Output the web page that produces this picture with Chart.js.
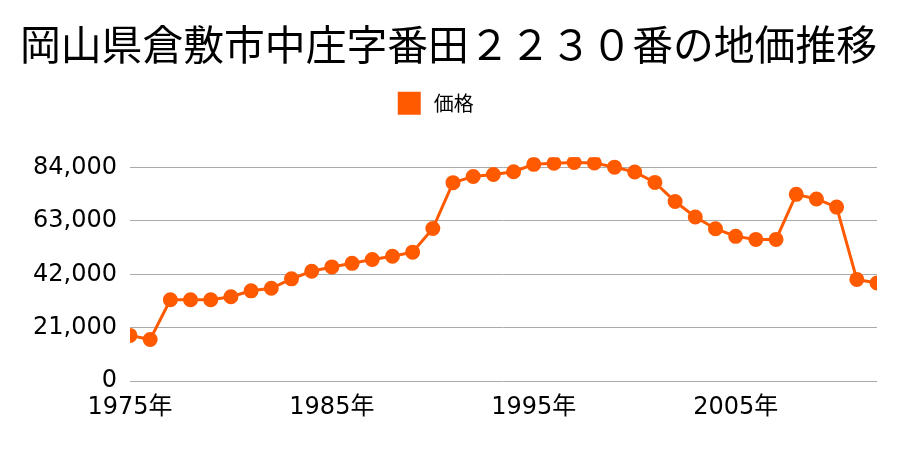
<!DOCTYPE html>
<html>
<head>
<meta charset="utf-8">
<script src="https://cdn.jsdelivr.net/npm/chart.js@4/dist/chart.umd.min.js"></script>
<style>
  body { margin: 0; background: #fff; }
  #wrap { width: 900px; height: 450px; }
</style>
</head>
<body>
<div id="wrap"><canvas id="landPrice"></canvas></div>
<script>
const years = [1975,1976,1977,1978,1979,1980,1981,1982,1983,1984,1985,1986,1987,1988,1989,1990,1991,1992,1993,1994,1995,1996,1997,1998,1999,2000,2001,2002,2003,2004,2005,2006,2007,2008,2009,2010,2011,2012];
const prices = [18000,16400,32000,32000,32000,33200,35500,36500,40200,43200,44900,46300,47800,49100,50700,60000,78000,80400,81200,82300,85200,85600,85900,85700,84100,82200,78100,70600,64500,59900,56900,55700,55700,73400,71600,68400,40000,38600];
const yTicks = [0,21000,42000,63000,84000];
const xTicks = [1975,1985,1995,2005];

const points = years.map((y, i) => ({ x: y, y: prices[i] }));
const tickFont = "'DejaVu Sans', 'Noto Sans CJK JP', sans-serif";

// extra room under the legend, and nudge it a bit left
const legendTweak = {
    id: 'legendTweak',
    beforeInit(chart) {
        const fit = chart.legend.fit;
        chart.legend.fit = function () {
            fit.bind(chart.legend)();
            this.height += 34;
        };
    },
    afterLayout(chart) {
        chart.legend.left -= 12;
        chart.legend.right -= 12;
    }
};

const config = {
    type: 'line',
    data: {
        datasets: [
            {
                label: ' 価格',
                data: points,
                borderColor: '#ff5a00',
                backgroundColor: '#ff5a00',
                borderWidth: 3,
                pointRadius: 6,
                pointHoverRadius: 6,
                tension: 0
            }
        ]
    },
    options: {
        responsive: true,
        maintainAspectRatio: false,
        animation: false,
        layout: {
            padding: { left: 20, right: 23, top: 10, bottom: 24 }
        },
        plugins: {
            title: {
                display: true,
                text: '岡山県倉敷市中庄字番田２２３０番の地価推移',
                color: '#000',
                font: { size: 41, family: 'Noto Sans CJK JP', weight: 'normal' },
                padding: { top: 10, bottom: 14 }
            },
            legend: {
                labels: {
                    color: '#000',
                    boxWidth: 20,
                    boxHeight: 20,
                    font: { size: 20, family: 'Noto Sans CJK JP' }
                }
            }
        },
        scales: {
            x: {
                type: 'linear',
                min: 1975,
                max: 2012,
                afterBuildTicks: (axis) => { axis.ticks = xTicks.map(v => ({ value: v })); },
                ticks: {
                    color: '#000',
                    maxRotation: 0,
                    padding: 4,
                    font: { size: 24, family: tickFont },
                    callback: (v) => v + '年'
                },
                grid: { display: false },
                border: { display: false }
            },
            y: {
                min: 0,
                max: 88000,
                afterBuildTicks: (axis) => { axis.ticks = yTicks.map(v => ({ value: v })); },
                ticks: {
                    color: '#000',
                    padding: 13,
                    font: { size: 24, family: tickFont },
                    callback: (v) => v.toLocaleString('en-US')
                },
                grid: { color: '#aaa', drawTicks: false },
                border: { display: false }
            }
        }
    },
    plugins: [legendTweak]
};

var myChart = new Chart(document.getElementById('landPrice'), config);
</script>
</body>
</html>
